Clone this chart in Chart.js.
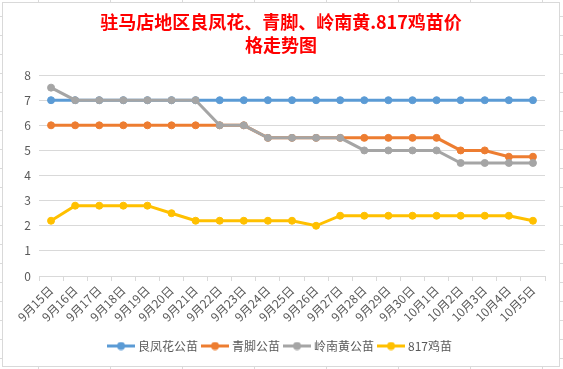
<!DOCTYPE html>
<html>
<head>
<meta charset="utf-8">
<script src="https://cdn.jsdelivr.net/npm/chart.js@4.4.0/dist/chart.umd.min.js"></script>
<style>
  html, body { margin: 0; padding: 0; }
  body {
    width: 563px; height: 369px; overflow: hidden; background-color: #fff;
    background-image: linear-gradient(#dadada 1px, transparent 1px), linear-gradient(90deg, #dadada 1px, transparent 1px);
    background-size: 72px 19px; background-position: 38px 16px;
  }
  #box { position: absolute; left: 2px; top: 2px; width: 556px; height: 363px; border: 1px solid #d9d9d9; background: #fff; }
</style>
</head>
<body>
<div id="box"><canvas id="chart" width="556" height="363"></canvas></div>
<script>
// 日期
const days = ['9月15日', '9月16日', '9月17日', '9月18日', '9月19日', '9月20日', '9月21日',
  '9月22日', '9月23日', '9月24日', '9月25日', '9月26日', '9月27日', '9月28日',
  '9月29日', '9月30日', '10月1日', '10月2日', '10月3日', '10月4日', '10月5日'];

// 各品种价格
const liangfenghua = [7, 7, 7, 7, 7, 7, 7, 7, 7, 7, 7, 7, 7, 7, 7, 7, 7, 7, 7, 7, 7];
const qingjiao = [6, 6, 6, 6, 6, 6, 6, 6, 6, 5.5, 5.5, 5.5, 5.5, 5.5, 5.5, 5.5, 5.5, 5, 5, 4.75, 4.75];
const lingnanhuang = [7.5, 7, 7, 7, 7, 7, 7, 6, 6, 5.5, 5.5, 5.5, 5.5, 5, 5, 5, 5, 4.5, 4.5, 4.5, 4.5];
const ji817 = [2.2, 2.8, 2.8, 2.8, 2.8, 2.5, 2.2, 2.2, 2.2, 2.2, 2.2, 2, 2.4, 2.4, 2.4, 2.4, 2.4, 2.4, 2.4, 2.4, 2.2];

const seriesNames = ['良凤花公苗', '青脚公苗', '岭南黄公苗', '817鸡苗'];
const seriesColors = ['#5B9BD5', '#ED7D31', '#A5A5A5', '#FFC000'];

const yTicks = [0, 1, 2, 3, 4, 5, 6, 7, 8];
const titleLines = ['驻马店地区良凤花、青脚、岭南黄.817鸡苗价', '格走势图'];

const fontFamily = '"Noto Sans CJK SC", "Microsoft YaHei", sans-serif';
const textColor = '#595959';
const gridColor = '#d9d9d9';

// 图例小图标: 线 + 圆点
function legendIcon(color) {
    const c = document.createElement('canvas');
    c.width = 28;
    c.height = 9;
    const g = c.getContext('2d');
    g.strokeStyle = color;
    g.lineWidth = 3;
    g.beginPath();
    g.moveTo(0, 4.5);
    g.lineTo(28, 4.5);
    g.stroke();
    g.fillStyle = color;
    g.beginPath();
    g.arc(14, 4.5, 4, 0, Math.PI * 2);
    g.fill();
    return c;
}
const icons = seriesColors.map(legendIcon);

const allValues = [liangfenghua, qingjiao, lingnanhuang, ji817];

const datasets = allValues.map((values, i) => ({
    label: seriesNames[i],
    data: values,
    borderColor: seriesColors[i],
    backgroundColor: seriesColors[i],
    pointBackgroundColor: seriesColors[i],
    pointBorderColor: seriesColors[i],
    borderWidth: 3,
    pointRadius: 3.5,
    pointBorderWidth: 1,
    tension: 0,
    fill: false,
    order: 4 - i // 后面的系列画在上面
}));

new Chart(document.getElementById('chart').getContext('2d'), {
    type: 'line',
    data: {
        labels: days,
        datasets: datasets
    },
    options: {
        responsive: false,
        animation: false,
        layout: {
            padding: { left: 0, right: 0, top: 0, bottom: 4 }
        },
        scales: {
            x: {
                offset: true,
                grid: {
                    offset: true,
                    drawOnChartArea: false,
                    drawTicks: true,
                    tickLength: 5,
                    color: gridColor
                },
                border: { color: gridColor },
                ticks: {
                    color: textColor,
                    font: { family: fontFamily, size: 12 },
                    minRotation: 45,
                    maxRotation: 45,
                    autoSkip: false,
                    padding: 2
                },
                afterFit: function(scale) {
                    scale.height = 58;
                }
            },
            y: {
                min: yTicks[0],
                max: yTicks[yTicks.length - 1],
                grid: { color: gridColor, drawTicks: false },
                border: { display: false },
                ticks: {
                    stepSize: 1,
                    color: textColor,
                    font: { family: fontFamily, size: 12 },
                    padding: 8
                },
                afterFit: function(scale) {
                    scale.width = 36;
                }
            },
            // 右侧空白, 让标题和图例居中
            yRight: {
                position: 'right',
                display: true,
                grid: { display: false },
                border: { display: false },
                ticks: { display: false },
                afterFit: function(scale) {
                    scale.width = 14;
                }
            }
        },
        plugins: {
            title: {
                display: true,
                text: titleLines,
                color: '#ff0000',
                font: { family: fontFamily, size: 18, weight: 'bold', lineHeight: 1.28 },
                padding: { top: 8, bottom: 18 }
            },
            legend: {
                position: 'bottom',
                labels: {
                    usePointStyle: true,
                    pointStyleWidth: 22,
                    boxHeight: 9,
                    color: textColor,
                    font: { family: fontFamily, size: 12 },
                    padding: 6,
                    sort: (a, b) => a.datasetIndex - b.datasetIndex,
                    generateLabels: function(chart) {
                        const items = Chart.defaults.plugins.legend.labels.generateLabels(chart);
                        items.forEach(item => {
                            item.pointStyle = icons[item.datasetIndex];
                        });
                        return items;
                    }
                }
            },
            tooltip: { enabled: false }
        }
    }
});
</script>
</body>
</html>
